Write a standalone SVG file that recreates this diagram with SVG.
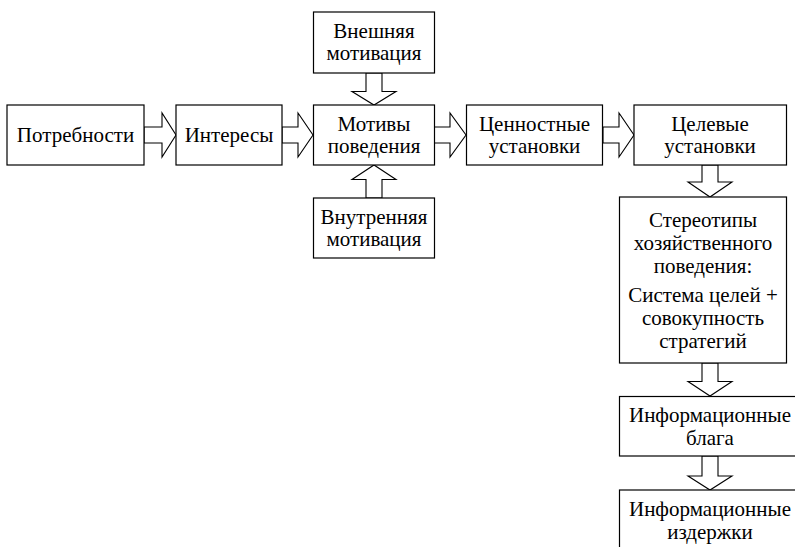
<svg xmlns="http://www.w3.org/2000/svg" width="795" height="547" viewBox="0 0 795 547" font-family="Liberation Serif, Tinos, Times New Roman, serif">
<style>
.box{fill:#fff;stroke:#000;stroke-width:1.2}
.arr{fill:#fff;stroke:#000;stroke-width:1.1;stroke-linejoin:miter}
.lbl{font-family:"Liberation Serif",Tinos,"Times New Roman",serif;font-size:21px;text-anchor:middle;fill:#000}
</style>
<rect width="795" height="547" fill="#fff"/>
<g id="connectors">
<path class="arr" d="M144,127 H162 V113 L176,135 L162,157 V143 H144 Z"/>
<path class="arr" d="M282,127 H298 V113 L313,135 L298,157 V143 H282 Z"/>
<path class="arr" d="M434,127 H450 V113 L466,135 L450,157 V143 H434 Z"/>
<path class="arr" d="M603,127 H619 V113 L634,135 L619,157 V143 H603 Z"/>
<path class="arr" d="M366,73 V91.5 H352 L374,105 L396,91.5 H382 V73 Z"/>
<path class="arr" d="M366,198 V179.5 H352 L374,165 L396,179.5 H382 V198 Z"/>
<path class="arr" d="M702,165 V182 H688 L710,197 L732,182 H718 V165 Z"/>
<path class="arr" d="M702,363 V381.5 H688 L710,396 L732,381.5 H718 V363 Z"/>
<path class="arr" d="M702,456 V476 H688 L710,490 L732,476 H718 V456 Z"/>
</g>
<g id="potrebnosti"><rect class="box" x="7" y="105" width="137" height="60"/><text class="lbl" x="75.5" y="141.5">Потребности</text></g>
<g id="interesy"><rect class="box" x="176" y="105" width="106" height="60"/><text class="lbl" x="229" y="141.5">Интересы</text></g>
<g id="motivy"><rect class="box" x="313.5" y="105" width="121" height="60"/><text class="lbl" x="374" y="130.5">Мотивы</text><text class="lbl" x="374" y="152.5">поведения</text></g>
<g id="vneshnyaya"><rect class="box" x="313.5" y="12" width="121" height="61"/><text class="lbl" x="374" y="37.5">Внешняя</text><text class="lbl" x="374" y="59.5">мотивация</text></g>
<g id="vnutrennyaya"><rect class="box" x="313.5" y="198" width="121" height="60"/><text class="lbl" x="374" y="223.5">Внутренняя</text><text class="lbl" x="374" y="245.5">мотивация</text></g>
<g id="tsennostnye"><rect class="box" x="466.5" y="105" width="136" height="60"/><text class="lbl" x="534.5" y="130.5">Ценностные</text><text class="lbl" x="534.5" y="152.5">установки</text></g>
<g id="tselevye"><rect class="box" x="634" y="105" width="152.5" height="60"/><text class="lbl" x="710" y="130.5">Целевые</text><text class="lbl" x="710" y="152.5">установки</text></g>
<g id="stereotipy"><rect class="box" x="619.5" y="197" width="167" height="166"/>
<text class="lbl" x="703" y="227">Стереотипы</text><text class="lbl" x="703" y="250">хозяйственного</text><text class="lbl" x="703" y="273">поведения:</text>
<text class="lbl" x="703" y="302">Система целей +</text><text class="lbl" x="703" y="325">совокупность</text><text class="lbl" x="703" y="348">стратегий</text></g>
<g id="inf-blaga"><rect class="box" x="619.5" y="396.5" width="182" height="59.5"/><text class="lbl" x="710" y="421.5">Информационные</text><text class="lbl" x="710" y="444.5">блага</text></g>
<g id="inf-izderzhki"><rect class="box" x="619.5" y="490" width="182" height="70"/><text class="lbl" x="710" y="515.5">Информационные</text><text class="lbl" x="710" y="538.5">издержки</text></g>
</svg>
